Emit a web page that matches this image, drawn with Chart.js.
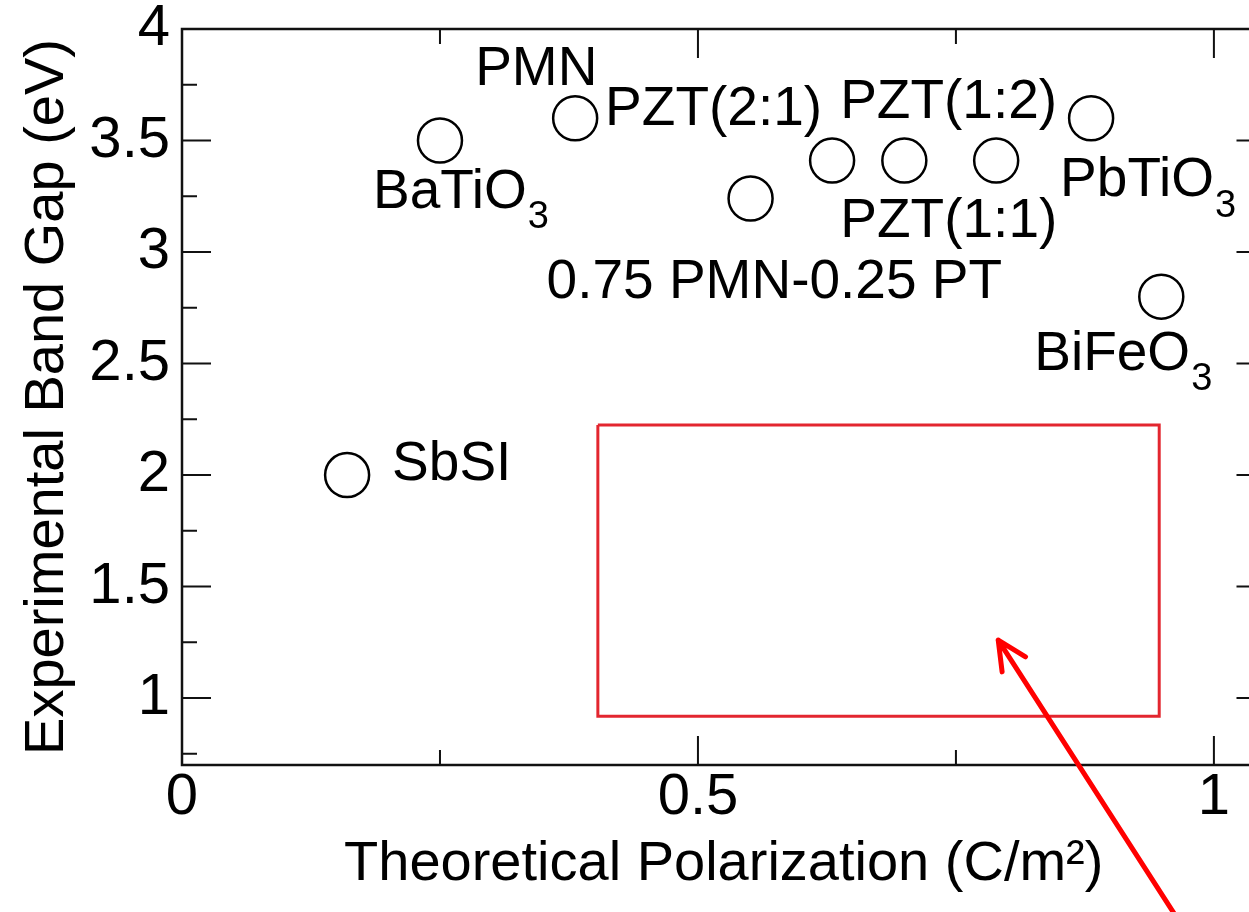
<!DOCTYPE html>
<html>
<head>
<meta charset="utf-8">
<script src="https://cdn.jsdelivr.net/npm/chart.js@4.4.1/dist/chart.umd.min.js"></script>
<style>
html, body { margin: 0; padding: 0; background: #fff; overflow: hidden; }
#wrap { width: 1290px; height: 912px; }
</style>
</head>
<body>
<div id="wrap"><canvas id="bandGapCanvas" width="1290" height="912"></canvas></div>
<script>
// values
const materials = ['SbSI', 'BaTiO3', 'PMN', '0.75 PMN-0.25 PT', 'PZT(2:1)', 'PZT(1:1)', 'PZT(1:2)', 'PbTiO3', 'BiFeO3'];
const polarization = [0.160, 0.250, 0.381, 0.551, 0.630, 0.700, 0.789, 0.881, 0.949];
const bandGap = [2.00, 3.50, 3.60, 3.24, 3.41, 3.41, 3.41, 3.60, 2.80];

// highlighted target region (red box) and the arrow pointing at it
const boxX = [0.403, 0.947, 0.947, 0.403, 0.403];
const boxY = [2.224, 2.224, 0.919, 0.919, 2.224];
const arrowX = [0.962, 0.791];
const arrowY = [0.03, 1.26];

// label placement, pixel offset of the text's left/middle from the marker
const labelOffsets = {
    'SbSI': [45, -10],
    'BaTiO3': [-67, 52],
    'PMN': [-100, -48],
    '0.75 PMN-0.25 PT': [-204, 84],
    'PZT(2:1)': [-227, -51],
    'PZT(1:1)': [-64, 61],
    'PZT(1:2)': [-156, -58],
    'PbTiO3': [-31, 63],
    'BiFeO3': [-127, 58]
};

const FONT = '"Liberation Sans", Arial, Helvetica, sans-serif';

function isMajor(v) {
    return Math.abs(v * 2 - Math.round(v * 2)) < 1e-6;
}

const framePlugin = {
    id: 'frame',
    afterDraw(chart) {
        const ctx = chart.ctx;
        const a = chart.chartArea;
        const xs = chart.scales.x, ys = chart.scales.y;
        ctx.save();
        ctx.strokeStyle = '#111';
        ctx.lineWidth = 2.5;
        ctx.strokeRect(a.left, a.top, a.right - a.left, a.bottom - a.top);
        ctx.lineWidth = 2;
        ctx.beginPath();
        xs.ticks.forEach(t => {
            const px = xs.getPixelForValue(t.value);
            const len = isMajor(t.value) ? 29 : 15;
            ctx.moveTo(px, a.bottom); ctx.lineTo(px, a.bottom - len);
            ctx.moveTo(px, a.top); ctx.lineTo(px, a.top + len);
        });
        ys.ticks.forEach(t => {
            const py = ys.getPixelForValue(t.value);
            const len = isMajor(t.value) ? 29 : 15;
            ctx.moveTo(a.left, py); ctx.lineTo(a.left + len, py);
            ctx.moveTo(a.right, py); ctx.lineTo(a.right - len, py);
        });
        ctx.stroke();

        // point labels, trailing digit drawn as subscript
        ctx.fillStyle = '#000';
        ctx.textBaseline = 'middle';
        ctx.textAlign = 'left';
        materials.forEach((name, i) => {
            const px = xs.getPixelForValue(polarization[i]);
            const py = ys.getPixelForValue(bandGap[i]);
            const off = labelOffsets[name];
            const m = name.match(/^(.*[A-Za-z])(\d)$/);
            const main = m ? m[1] : name;
            ctx.font = '55px ' + FONT;
            ctx.fillText(main, px + off[0], py + off[1]);
            if (m) {
                const w = ctx.measureText(main).width;
                ctx.font = '38px ' + FONT;
                ctx.fillText(m[2], px + off[0] + w + 1, py + off[1] + 25);
            }
        });

        // red arrow
        const x0 = xs.getPixelForValue(arrowX[0]), y0 = ys.getPixelForValue(arrowY[0]);
        const x1 = xs.getPixelForValue(arrowX[1]), y1 = ys.getPixelForValue(arrowY[1]);
        const ang = Math.atan2(y1 - y0, x1 - x0);
        ctx.strokeStyle = '#ff0000';
        ctx.lineWidth = 5;
        ctx.lineCap = 'round';
        ctx.beginPath();
        ctx.moveTo(x0, y0); ctx.lineTo(x1, y1);
        const head = 32;
        ctx.moveTo(x1, y1);
        ctx.lineTo(x1 - head * Math.cos(ang - 0.45), y1 - head * Math.sin(ang - 0.45));
        ctx.moveTo(x1, y1);
        ctx.lineTo(x1 - head * Math.cos(ang + 0.45), y1 - head * Math.sin(ang + 0.45));
        ctx.stroke();
        ctx.restore();
    }
};

const ctx = document.getElementById('bandGapCanvas').getContext('2d');

const bandGapChart = new Chart(ctx, {
    type: 'scatter',
    data: {
        datasets: [{
            label: 'Ferroelectrics',
            data: polarization.map((x, i) => ({ x: x, y: bandGap[i] })),
            pointStyle: 'circle',
            pointRadius: 22,
            pointBorderWidth: 2.5,
            pointBorderColor: '#000',
            pointBackgroundColor: 'rgba(0,0,0,0)',
            showLine: false
        }, {
            label: 'Target',
            data: boxX.map((x, i) => ({ x: x, y: boxY[i] })),
            showLine: true,
            borderColor: '#e3262f',
            borderWidth: 3,
            pointRadius: 0,
            fill: false,
            tension: 0
        }]
    },
    options: {
        responsive: false,
        animation: false,
        layout: { padding: { top: 29, right: 23, left: 0, bottom: 0 } },
        plugins: {
            legend: { display: false },
            tooltip: { enabled: false }
        },
        scales: {
            x: {
                type: 'linear',
                min: 0,
                max: 1.05,
                grid: { display: false, drawTicks: false },
                border: { display: false },
                ticks: {
                    stepSize: 0.25,
                    includeBounds: false,
                    autoSkip: false,
                    maxRotation: 0,
                    padding: 4,
                    color: '#000',
                    font: { family: FONT, size: 58, lineHeight: 1 },
                    callback: function (value) {
                        return isMajor(value) ? String(value) : '';
                    }
                },
                title: {
                    display: true,
                    text: 'Theoretical Polarization (C/m²)',
                    color: '#000',
                    font: { family: FONT, size: 56 },
                    padding: { top: 12, bottom: 14 }
                },
                afterFit: function (scale) {
                    scale.height = 147;
                    scale.paddingLeft = 0;
                    scale.paddingRight = 0;
                }
            },
            y: {
                type: 'linear',
                min: 0.7,
                max: 4,
                grid: { display: false, drawTicks: false },
                border: { display: false },
                ticks: {
                    stepSize: 0.25,
                    includeBounds: false,
                    autoSkip: false,
                    padding: 12,
                    color: '#000',
                    font: { family: FONT, size: 58, lineHeight: 1 },
                    callback: function (value) {
                        return isMajor(value) ? String(value) : '';
                    }
                },
                title: {
                    display: true,
                    text: 'Experimental Band Gap (eV)',
                    color: '#000',
                    font: { family: FONT, size: 56 },
                    padding: { top: 14, bottom: 0 }
                },
                afterFit: function (scale) {
                    scale.width = 182;
                    scale.paddingTop = 0;
                    scale.paddingBottom = 0;
                }
            }
        }
    },
    plugins: [framePlugin]
});
</script>
</body>
</html>
